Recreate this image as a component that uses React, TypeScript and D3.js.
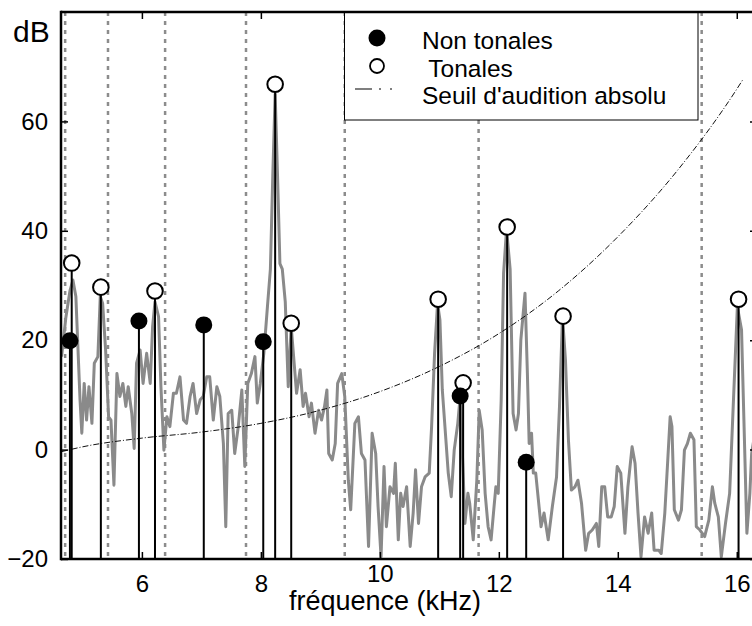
import React, { useEffect, useRef } from 'react';
import * as d3 from 'd3';

// axis ticks
const xTicks = [6, 8, 10, 12, 14, 16];
const yTicks = [-20, 0, 20, 40, 60];

// critical band limits (dotted grey verticals), kHz
const bandEdges = [4.71, 5.43, 6.39, 7.75, 9.41, 11.66, 15.41];

// spectrum (grey line)
const specFreq = [
  4.65, 4.72, 4.79, 4.84, 4.89, 4.96, 4.99, 5.03, 5.07, 5.11, 5.16, 5.2, 5.26, 5.3, 5.34, 5.39, 5.44, 5.48,
  5.53, 5.58, 5.63, 5.68, 5.73, 5.77, 5.83, 5.87, 5.91, 5.97, 6.02, 6.08, 6.14, 6.18, 6.22, 6.28, 6.32, 6.37,
  6.42, 6.47, 6.53, 6.58, 6.64, 6.7, 6.75, 6.81, 6.86, 6.92, 6.98, 7.03, 7.09, 7.14, 7.2, 7.26, 7.31, 7.37,
  7.41, 7.45, 7.51, 7.56, 7.62, 7.68, 7.73, 7.78, 7.84, 7.9, 7.94, 7.99, 8.05, 8.11, 8.16, 8.2, 8.24, 8.28,
  8.32, 8.36, 8.41, 8.46, 8.51, 8.6, 8.66, 8.71, 8.75, 8.81, 8.85, 8.91, 8.97, 9.02, 9.07, 9.11, 9.14, 9.2,
  9.25, 9.29, 9.36, 9.41, 9.47, 9.51, 9.58, 9.64, 9.69, 9.75, 9.81, 9.87, 9.93, 9.97, 10.02, 10.07, 10.11,
  10.17, 10.23, 10.26, 10.31, 10.35, 10.39, 10.45, 10.51, 10.56, 10.6, 10.65, 10.7, 10.76, 10.83, 10.87,
  10.92, 10.97, 11.01, 11.05, 11.11, 11.15, 11.2, 11.25, 11.31, 11.35, 11.4, 11.43, 11.48, 11.51, 11.57,
  11.63, 11.67, 11.72, 11.77, 11.82, 11.87, 11.91, 11.95, 11.99, 12.04, 12.08, 12.13, 12.19, 12.24, 12.29,
  12.33, 12.37, 12.44, 12.48, 12.51, 12.55, 12.58, 12.62, 12.71, 12.76, 12.83, 12.9, 12.97, 13.02, 13.07,
  13.12, 13.17, 13.22, 13.28, 13.33, 13.39, 13.46, 13.51, 13.57, 13.64, 13.68, 13.73, 13.78, 13.83, 13.89,
  13.94, 13.99, 14.05, 14.12, 14.17, 14.24, 14.29, 14.34, 14.39, 14.45, 14.51, 14.57, 14.61, 14.69, 14.73,
  14.79, 14.84, 14.88, 14.91, 14.95, 15.02, 15.07, 15.12, 15.17, 15.22, 15.28, 15.32, 15.38, 15.46, 15.53,
  15.59, 15.63, 15.69, 15.74, 15.81, 15.88, 15.94, 16.01, 16.08, 16.12, 16.17, 16.22, 16.25, 16.32,
];
const specDb = [
  17, 24, 29, 31, 28, 9.1, 3, 12.1, 5.4, 11.5, 4.8, 15.8, 17, 28, 26.7, 18.2, 6, 5.4,
  -6.5, 13.9, 9.7, 12.1, 7.9, 11.5, 6.6, 0.2, 15.8, 18.2, 12.1, 17.6, 12.1, 22.5, 27, 24.3, 11.5, -0.1,
  6, 4.2, 10.3, 10.3, 13.3, 5.4, 4.8, 9.7, 12.1, 6.6, 9.1, 9.7, 13.3, 13.3, 5.4, 11.5, 9.7, 1.1,
  -14.1, 6.6, 7.2, -0.7, 4.2, 10.9, -3.1, 12.1, 13.9, 17, 8.5, 12.1, 17.6, 26.1, 33, 50, 65, 50,
  34, 33, 27, 11.5, 22.5, 10.3, 14.6, 7.9, 10.3, 6, 8.5, 3, 7.2, 5.4, 7.9, 10.9, -0.7, -1.9,
  1.1, 12.1, 13.9, 9.7, -5.6, -11, 4.8, 6, -0.7, -1.9, -17.7, 3, -0.7, -10.4, -19.6, -3.1, -14.1,
  -6.8, -8, -2.5, -16.5, -8, -10.4, -6.8, -17.7, -11.6, -3.7, -13.5, -6.8, -5, -4.3, 4.2,
  17.6, 26.7, 23.7, 10.9, 1.8, -4.3, -8.6, -0.1, 4.8, 9.7, -4.3, -13.5, -8, -9.8, -16.5,
  -5.6, 7.2, 3.6, -8, -14.1, -16.5, -11.6, -6.8, -8, 9.1, 32.2, 40.3, 33, 6.6, 3.6,
  6.6, 20, 28.6, 14, 1.1, 3, -4.3, -4.3, -14.1, -11.6, -16.5, -10.4, -5, 7.9, 24.3,
  16.4, 1.8, -7.4, -6.8, -5.6, -9.8, -18.4, -15.3, -14.7, -13.5, -17.7, -6.8, -6.8, -12.3, -12.3,
  -10.4, -3.1, -4.3, -15.3, -6.8, 0.5, -2.5, -11.6, -19.6, -12.3, -15.3, -11.6, -18.4, -18.4, -19,
  -11.6, -1.9, 6, 4.2, -11, -12.9, -11, -0.1, 1.1, 3, 1.8, -14.1, -14.7, -15.9, -12.9,
  -6.8, -9.8, -12.3, -19.6, -13.5, -8, 7.9, 26.1, 21.9, 5.4, -15.3, -8, -0.7, 4,
];

// tonal (open) and non tonal (filled) maskers
const tonalFreq = [4.82, 5.31, 6.22, 8.24, 8.51, 10.98, 11.4, 12.14, 13.08, 16.03];
const tonalDb = [34.1, 29.7, 29.0, 66.8, 23.1, 27.5, 12.2, 40.7, 24.4, 27.5];
const noiseFreq = [4.79, 5.95, 7.04, 8.04, 11.35, 12.46];
const noiseDb = [19.9, 23.5, 22.8, 19.7, 9.8, -2.3];

// absolute threshold of hearing
const thrFreq = [4.64, 5, 6, 7, 8, 9, 10, 11, 12, 13, 14, 15, 16, 16.1];
const thrDb = [-0.4, 0.5, 2.1, 3.2, 4.8, 7.2, 10.6, 15.2, 21.2, 29.0, 38.9, 51.0, 65.9, 67.6];

const legendLabels = ['Non tonales', ' Tonales', "Seuil d'audition absolu"];

const font = "'Liberation Sans', Arial, Helvetica, sans-serif";

export default function App() {
  const ref = useRef<SVGSVGElement>(null);

  useEffect(() => {
    const svg = d3.select(ref.current);
    svg.selectAll('*').remove();

    const x = d3.scaleLinear().domain([4.64, 16.34]).range([61, 757]);
    const y = d3.scaleLinear().domain([-20, 80]).range([559, 12]);
    const left = x.range()[0], right = x.range()[1];
    const top = y(80), bottom = y(-20);

    svg.append('defs').append('clipPath').attr('id', 'plotclip')
      .append('rect').attr('x', left).attr('y', top)
      .attr('width', right - left).attr('height', bottom - top);

    const plot = svg.append('g').attr('clip-path', 'url(#plotclip)');

    // band edges
    plot.selectAll('line.band').data(bandEdges).enter().append('line')
      .attr('class', 'band')
      .attr('x1', d => x(d)).attr('x2', d => x(d))
      .attr('y1', top).attr('y2', bottom)
      .attr('stroke', '#8c8c8c').attr('stroke-width', 2.5)
      .attr('stroke-dasharray', '4,5');

    // spectrum
    const spec = d3.line<number>()
      .x((d, i) => x(specFreq[i]))
      .y(d => y(d));
    plot.append('path').datum(specDb)
      .attr('d', spec)
      .attr('fill', 'none').attr('stroke', '#8a8a8a').attr('stroke-width', 3)
      .attr('stroke-linejoin', 'round');

    // threshold
    const thr = d3.line<number>()
      .x((d, i) => x(thrFreq[i]))
      .y(d => y(d))
      .curve(d3.curveMonotoneX);
    plot.append('path').datum(thrDb)
      .attr('d', thr)
      .attr('fill', 'none').attr('stroke', '#111').attr('stroke-width', 1)
      .attr('stroke-dasharray', '6,2,1,2');

    // stems
    const stems = tonalFreq.map((f, i) => [f, tonalDb[i]])
      .concat(noiseFreq.map((f, i) => [f, noiseDb[i]]));
    plot.selectAll('line.stem').data(stems).enter().append('line')
      .attr('class', 'stem')
      .attr('x1', d => x(d[0])).attr('x2', d => x(d[0]))
      .attr('y1', bottom).attr('y2', d => y(d[1]))
      .attr('stroke', '#000').attr('stroke-width', 2);

    // markers
    plot.selectAll('circle.tonal').data(tonalFreq).enter().append('circle')
      .attr('class', 'tonal')
      .attr('cx', d => x(d)).attr('cy', (d, i) => y(tonalDb[i]))
      .attr('r', 7.8).attr('fill', '#fff').attr('stroke', '#000').attr('stroke-width', 2);
    plot.selectAll('circle.noise').data(noiseFreq).enter().append('circle')
      .attr('class', 'noise')
      .attr('cx', d => x(d)).attr('cy', (d, i) => y(noiseDb[i]))
      .attr('r', 8.5).attr('fill', '#000');

    // axes (ticks only, the frame is drawn later)
    const styleAxis = (g: any) => {
      g.select('.domain').remove();
      g.selectAll('.tick line').attr('stroke', '#000').attr('stroke-width', 1.5);
      g.selectAll('.tick text').attr('fill', '#000')
        .attr('font-family', font).attr('font-size', 24);
    };
    const xAxis = svg.append('g').attr('transform', `translate(0,${bottom})`)
      .call(d3.axisBottom(x).tickValues(xTicks).tickSize(-7).tickPadding(16).tickFormat(d3.format('d')))
      .call(styleAxis);
    // the "10" label sits a bit higher, above the axis title
    xAxis.selectAll('.tick text').filter((d: any) => d === 10).attr('y', 6);
    svg.append('g').attr('transform', `translate(${left},0)`)
      .call(d3.axisLeft(y).tickValues(yTicks).tickSize(-7).tickPadding(13).tickFormat(d3.format('d')))
      .call(styleAxis);
    svg.append('g').attr('transform', `translate(0,${top})`)
      .call(d3.axisTop(x).tickValues(xTicks).tickSize(-7).tickFormat(() => ''))
      .call(styleAxis);
    svg.append('g').attr('transform', `translate(${right},0)`)
      .call(d3.axisRight(y).tickValues(yTicks).tickSize(-7).tickFormat(() => ''))
      .call(styleAxis);

    // legend
    const lg = svg.append('g');
    lg.append('rect')
      .attr('x', 344.5).attr('y', top).attr('width', 353.5).attr('height', 108)
      .attr('fill', '#fff').attr('stroke', '#000').attr('stroke-width', 1);
    lg.append('circle').attr('cx', 377).attr('cy', 38).attr('r', 8.5).attr('fill', '#000');
    lg.append('circle').attr('cx', 377).attr('cy', 66).attr('r', 7)
      .attr('fill', '#fff').attr('stroke', '#000').attr('stroke-width', 1.8);
    lg.append('line').attr('x1', 355).attr('x2', 395).attr('y1', 89).attr('y2', 89)
      .attr('stroke', '#000').attr('stroke-width', 1.2)
      .attr('stroke-dasharray', '17,7,2,9,2,10');
    lg.selectAll('text').data(legendLabels).enter().append('text')
      .attr('x', 422).attr('y', (d, i) => [49, 77, 104][i])
      .attr('font-family', font).attr('font-size', 24.5).attr('fill', '#000')
      .style('white-space', 'pre')
      .text(d => d);

    // frame
    const frame = svg.append('g').attr('stroke', '#000').attr('stroke-width', 2.5);
    frame.append('line').attr('x1', left).attr('x2', left).attr('y1', top - 1.25).attr('y2', bottom + 1.25);
    frame.append('line').attr('x1', left).attr('x2', right).attr('y1', bottom).attr('y2', bottom);
    frame.append('line').attr('x1', left).attr('x2', right).attr('y1', top).attr('y2', top);
    frame.append('line').attr('x1', right).attr('x2', right).attr('y1', top).attr('y2', bottom);

    // titles
    svg.append('text').attr('x', 13).attr('y', 42)
      .attr('font-family', font).attr('font-size', 30).attr('fill', '#000')
      .text('dB');
    svg.append('text').attr('x', 385).attr('y', 610).attr('text-anchor', 'middle')
      .attr('font-family', font).attr('font-size', 27).attr('fill', '#000')
      .text('fréquence (kHz)');
  }, []);

  return (
    <svg ref={ref} width={752} height={626}
      style={{ position: 'absolute', left: 0, top: 0, background: '#fff' }} />
  );
}
